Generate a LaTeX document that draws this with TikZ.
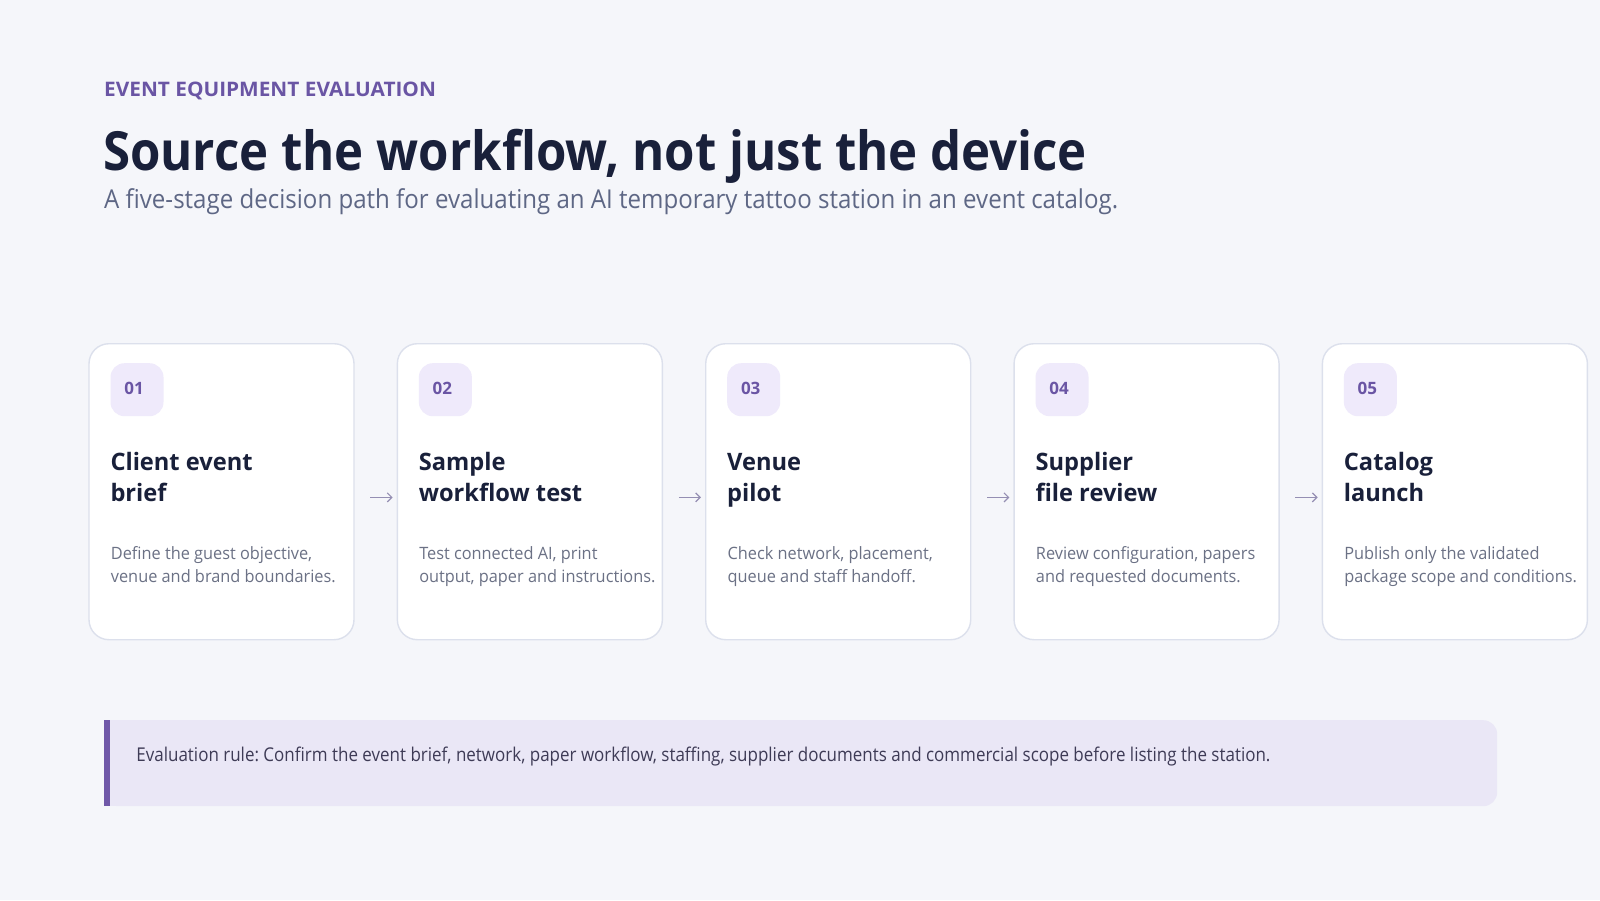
\documentclass[tikz,border=0pt]{standalone}
\usepackage{fontspec}
\setmainfont{Open Sans}
\newfontfamily\titlefam[FakeStretch=0.91]{Open Sans}
\newfontfamily\subfam[FakeStretch=0.926]{Open Sans}
\newfontfamily\callfam[FakeStretch=0.894]{Open Sans}
\newfontfamily\descfam[FakeStretch=0.96]{Open Sans}
\newfontfamily\kickfam[FakeStretch=1.04]{Open Sans}
\newfontfamily\cardfam[FakeStretch=0.985]{Open Sans}
\usetikzlibrary{arrows.meta}
\definecolor{bg}{HTML}{F5F6FA}
\definecolor{kick}{HTML}{6A55A4}
\definecolor{ink}{HTML}{19203A}
\definecolor{sub}{HTML}{5E6785}
\definecolor{desc}{HTML}{6B7185}
\definecolor{cardline}{HTML}{DCE0EC}
\definecolor{badgefill}{HTML}{EFEAFB}
\definecolor{badgetext}{HTML}{6A55A4}
\definecolor{arrowc}{HTML}{958FB3}
\definecolor{callfill}{HTML}{EAE7F6}
\definecolor{callbar}{HTML}{7058A8}
\definecolor{calltext}{HTML}{3E3B56}
\tikzset{
  card/.style={draw=cardline, line width=1.4pt, fill=white, rounded corners=20pt, minimum width=265pt, minimum height=296pt, inner sep=0pt, anchor=north west},
  badge/.style={fill=badgefill, rounded corners=14pt, minimum width=53pt, minimum height=53pt, inner sep=0pt, anchor=north west},
  numtxt/.style={text=badgetext, font=\fontsize{17}{20}\selectfont\bfseries, inner sep=0pt},
  ttl/.style={text=ink, font=\cardfam\fontsize{24}{31}\selectfont\bfseries, align=left, inner sep=0pt, anchor=base west},
  dsc/.style={text=desc, font=\descfam\fontsize{17}{23.4}\selectfont, align=left, inner sep=0pt, anchor=base west},
  arr/.style={draw=arrowc, line width=1.2pt, -{Straight Barb[length=4.5pt,width=9pt]}},
}
\frenchspacing
\begin{document}
\begin{tikzpicture}[x=1pt,y=-1pt]
\fill[bg] (0,0) rectangle (1600,900);
\useasboundingbox (0,0) rectangle (1600,900);

\node[anchor=base west, inner sep=0pt, text=kick, font=\kickfam\fontsize{20}{24}\selectfont\bfseries] (kicker) at (104,96.7) {EVENT EQUIPMENT EVALUATION};
\node[anchor=base west, inner sep=0pt, text=ink, font=\titlefam\fontsize{54}{60}\selectfont\bfseries] (title) at (103,170) {Source the workflow, not just the device};
\node[anchor=base west, inner sep=0pt, text=sub, font=\subfam\fontsize{26}{30}\selectfont] (subtitle) at (104,208) {A five-stage decision path for evaluating an AI temporary tattoo station in an event catalog.};

\foreach \i/\num/\ta/\tb/\da/\db in {
  0/01/Client event/brief/{Define the guest objective,}/{venue and brand boundaries.},
  1/02/Sample/workflow test/{Test connected AI, print}/{output, paper and instructions.},
  2/03/Venue/pilot/{Check network, placement,}/{queue and staff handoff.},
  3/04/Supplier/file review/{Review configuration, papers}/{and requested documents.},
  4/05/Catalog/launch/{Publish only the validated}/{package scope and conditions.}} {
  \node[card] (c\i) at ({88.3+308.35*\i},343) {};
  \node[badge] (b\i) at ([shift={(22,20)}]c\i.north west) {};
  \node[numtxt] (n\i) at ([shift={(-3,-1.5)}]b\i.center) {\num};
  \node[ttl] (t\i) at ([shift={(22,158.7)}]c\i.north west) {\ta\\\tb};
  \node[dsc] (d\i) at ([shift={(22.4,239.7)}]c\i.north west) {\da\\\db};
}
\foreach \i/\j in {0/1,1/2,2/3,3/4} {
  \draw[arr] ([shift={(15.7,5.7)}]c\i.east) -- ([shift={(-4,5.7)}]c\j.west);
}

\node[fill=callfill, rounded corners=14pt, minimum width=1393pt, minimum height=86pt, inner sep=0pt, anchor=north west] (callout) at (104,720) {};
\fill[callfill] (callout.north west) rectangle ([xshift=30pt]callout.south west);
\fill[callbar] (callout.north west) rectangle ([xshift=6pt]callout.south west);
\node[anchor=base west, inner sep=0pt, text=calltext, font=\callfam\fontsize{19}{23}\selectfont] (rule) at ([shift={(32.2,41.7)}]callout.north west) {Evaluation rule: Confirm the event brief, network, paper workflow, staffing, supplier documents and commercial scope before listing the station.};
\end{tikzpicture}
\end{document}
